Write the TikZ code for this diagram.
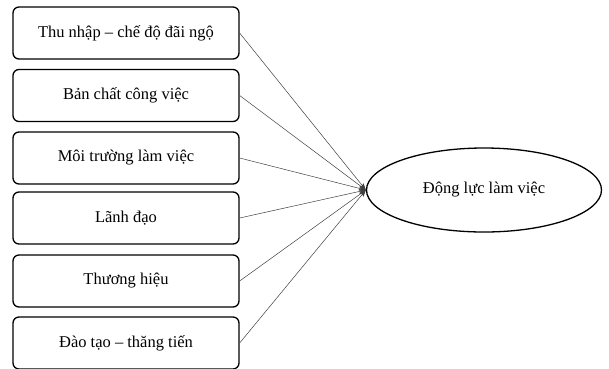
\documentclass[tikz,border=0pt]{standalone}
\usepackage{fontspec}
\setmainfont{Liberation Serif}
\usetikzlibrary{shapes.geometric,arrows.meta}
\tikzset{
	factor/.style={draw, rounded corners=6pt, line width=1.3pt, minimum width=226pt, minimum height=52pt, inner sep=0pt, font=\fontsize{16.5}{19}\selectfont},
	outcome/.style={draw, ellipse, line width=1.3pt, minimum width=235pt, minimum height=84pt, inner sep=0pt, font=\fontsize{16.5}{19}\selectfont},
	link/.style={draw=black!75, line width=0.5pt, -{Stealth[length=7pt,width=5pt]}}
}
\begin{document}
\begin{tikzpicture}[x=1pt,y=-1pt]
	\useasboundingbox (0,0) rectangle (609,368);
	\node[factor] (thunhap) at (126, 33) {Thu nhập – chế độ đãi ngộ};
	\node[factor] (banchat) at (126, 95.5) {Bản chất công việc};
	\node[factor] (moitruong) at (126, 158) {Môi trường làm việc};
	\node[factor] (lanhdao) at (126, 218) {Lãnh đạo};
	\node[factor] (thuonghieu) at (126, 281) {Thương hiệu};
	\node[factor] (daotao) at (126, 343) {Đào tạo – thăng tiến};
	\node[outcome] (dongluc) at (484, 190) {Động lực làm việc};
	\draw[link] (thunhap.east) -- (dongluc.west);
	\draw[link] (banchat.east) -- (dongluc.west);
	\draw[link] (moitruong.east) -- (dongluc.west);
	\draw[link] (lanhdao.east) -- (dongluc.west);
	\draw[link] (thuonghieu.east) -- (dongluc.west);
	\draw[link] (daotao.east) -- (dongluc.west);
\end{tikzpicture}
\end{document}
